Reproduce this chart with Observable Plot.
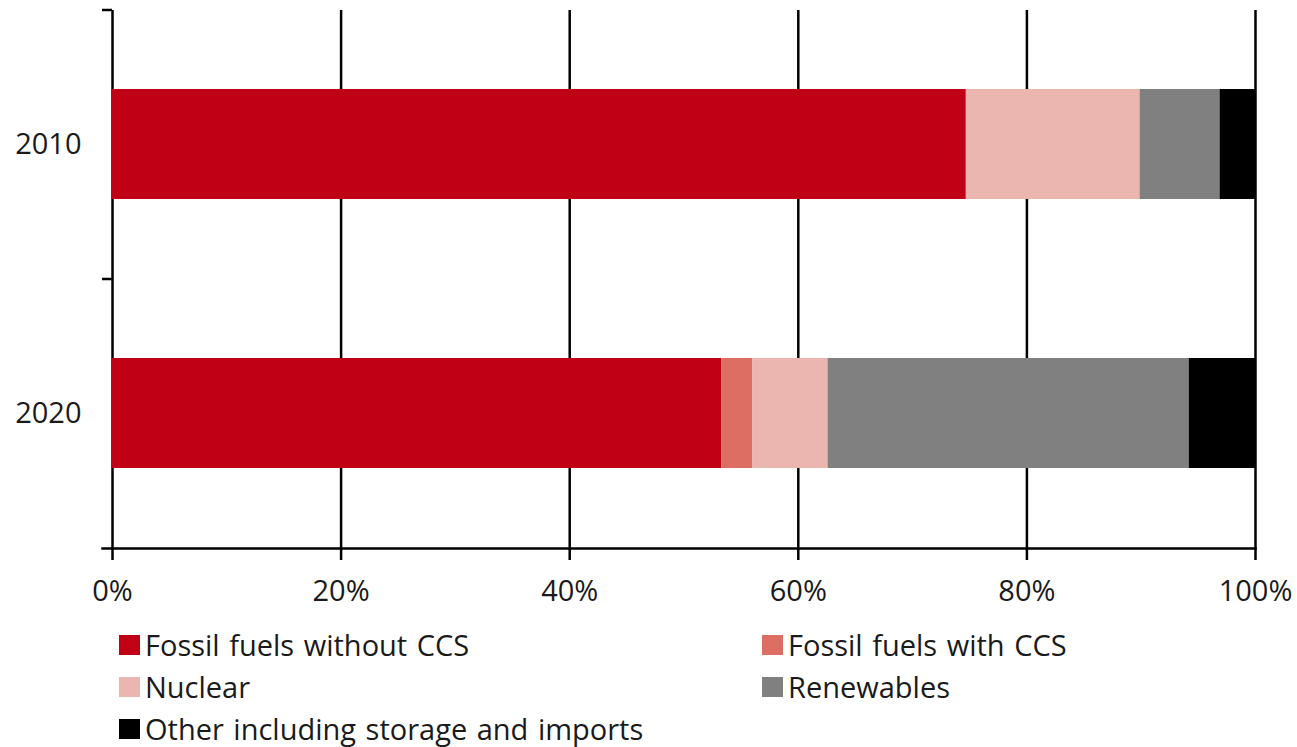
<!DOCTYPE html>
<html>
<head>
<meta charset="utf-8">
<script src="https://cdn.jsdelivr.net/npm/d3@7"></script>
<script src="https://cdn.jsdelivr.net/npm/@observablehq/plot@0.6"></script>
<style>
  html, body { margin: 0; padding: 0; background: #fff; }
  body { width: 1297px; height: 747px; overflow: hidden; font-family: "Open Sans", sans-serif; color: #1a1a1a; }
  #legend { display: grid; grid-template-columns: 643px auto; margin-left: 119px; padding-top: 4px; font-size: 29px; line-height: 42px; word-spacing: 2px; }
  .item { display: flex; align-items: center; white-space: nowrap; }
  .sw { width: 21px; height: 20px; margin-right: 5px; flex: none; }
</style>
</head>
<body>
<div id="chart"></div>
<div id="legend"></div>
<script>
const years = ["2010", "2020"];
const series = ["Fossil fuels without CCS", "Fossil fuels with CCS", "Nuclear", "Renewables", "Other including storage and imports"];
const colors = ["#C00014", "#DC6E64", "#EBB5B0", "#808080", "#000000"];
const values2010 = [74.7, 0, 15.2, 7.0, 3.1];
const values2020 = [53.3, 2.7, 6.6, 31.6, 5.8];
const xTicks = [0, 20, 40, 60, 80, 100];

const byYear = {"2010": values2010, "2020": values2020};
const data = [];
for (const y of years) series.forEach((s, i) => data.push({year: y, series: s, value: byYear[y][i]}));

const W = 1297, H = 620, mL = 112, mR = 42, mT = 10, mB = 72;
const step = (H - mT - mB) / years.length;

const chart = Plot.plot({
  width: W, height: H,
  marginLeft: mL, marginRight: mR, marginTop: mT, marginBottom: mB,
  style: {fontFamily: "Open Sans", fontSize: "29px", color: "#1a1a1a", background: "white", overflow: "visible"},
  x: {domain: [0, 100], label: null},
  y: {domain: years, paddingInner: 0.59, paddingOuter: 0.295, label: null},
  color: {domain: series, range: colors},
  marks: [
    Plot.ruleX(xTicks, {stroke: "black", strokeWidth: 2.5}),
    Plot.barX(data, {x: "value", y: "year", fill: "series"}),
    Plot.frame({anchor: "bottom", stroke: "black", strokeWidth: 2.5, insetLeft: -10}),
    Plot.axisX({ticks: xTicks, tickSize: 12, tickPadding: 20, tickFormat: d => d + "%", stroke: "black", strokeWidth: 2.5, fill: "#1a1a1a", label: null}),
    Plot.axisY({tickSize: 0, tickPadding: 31, fill: "#1a1a1a", label: null}),
    Plot.axisY({text: null, tickSize: 10, dy: -step / 2, stroke: "black", strokeWidth: 2.5, label: null})
  ]
});
document.getElementById("chart").appendChild(chart);

const legend = document.getElementById("legend");
for (let i = 0; i < series.length; i++) {
  const it = document.createElement("div");
  it.className = "item";
  const sw = document.createElement("span");
  sw.className = "sw";
  sw.style.background = colors[i];
  const tx = document.createElement("span");
  tx.textContent = series[i];
  it.appendChild(sw); it.appendChild(tx);
  legend.appendChild(it);
}
</script>
</body>
</html>
